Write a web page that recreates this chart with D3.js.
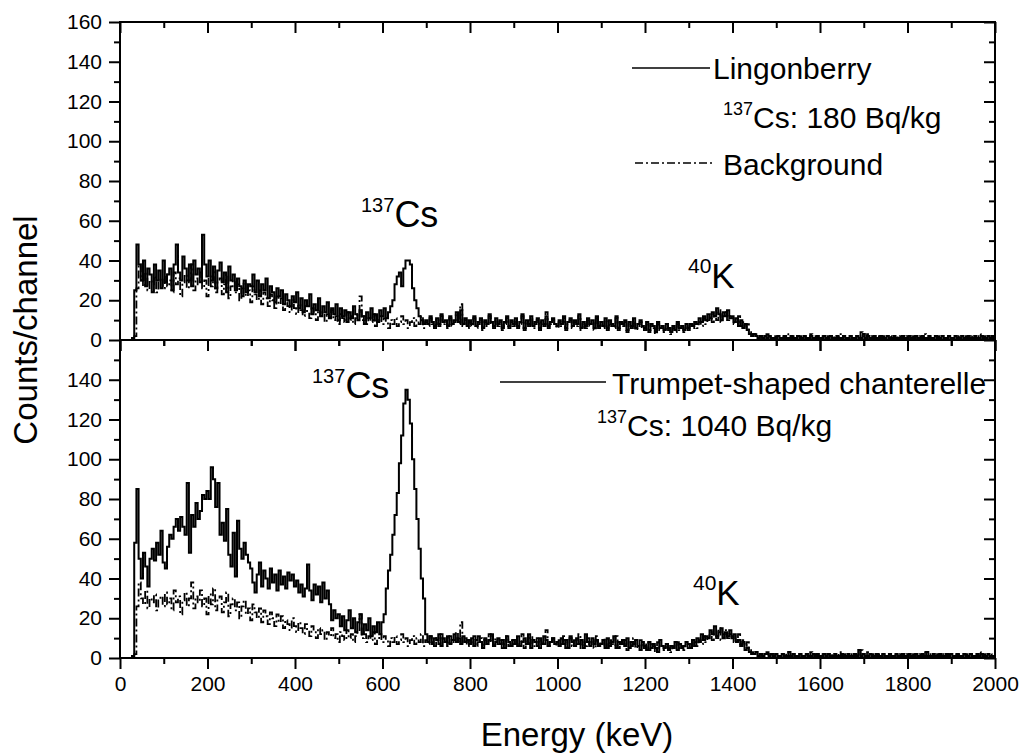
<!DOCTYPE html>
<html>
<head>
<meta charset="utf-8">
<script src="https://cdn.jsdelivr.net/npm/d3@7/dist/d3.min.js"></script>
<style>
  body { margin: 0; background: #fff; }
  svg { font-family: "Liberation Sans", Arial, sans-serif; }
</style>
</head>
<body>
<svg id="chart" width="1023" height="756"></svg>
<script>
// gamma spectra, one value per 5 keV channel, first channel at 0 keV
var energyStep = 5;

var backgroundCounts = [
  0,0,0,0,0,0,0,2,26,38, 30,27,34,25,30,28,32,24,29,31,
  26,33,27,30,24,34,28,31,22,29, 33,26,30,38,25,31,28,34,26,30,
  22,32,27,35,24,29,31,23,28,33, 21,27,30,24,28,20,26,29,22,25,
  19,27,23,20,25,18,24,21,17,23, 20,16,22,18,21,15,19,17,14,20,
  16,13,18,15,12,17,14,11,16,13, 10,15,12,14,9,13,11,15,10,12,
  8,13,11,9,14,10,12,8,11,13, 22,10,12,8,11,9,13,7,10,12,
  8,11,9,6,10,8,11,7,9,12, 8,10,6,9,11,7,10,8,12,6,
  9,7,11,8,6,10,7,12,8,9, 6,11,7,9,13,8,18,7,10,6,
  9,7,11,6,8,10,5,9,7,12, 8,6,10,7,9,5,8,11,6,9,
  7,10,6,8,12,5,9,7,11,6, 8,10,5,9,7,14,6,8,10,7,
  6,9,7,11,5,8,10,6,9,7, 12,5,8,6,10,7,9,5,11,6,
  8,6,10,5,9,7,6,11,5,8, 7,9,4,8,6,10,5,7,9,6,
  5,8,4,7,6,3,8,5,6,4, 7,5,3,6,4,8,5,6,4,7,
  5,7,6,8,6,9,7,11,8,10, 13,9,12,10,15,9,12,14,10,12,
  11,8,10,12,7,9,6,8,4,3, 2,3,1,2,2,1,3,1,2,1,
  2,1,1,2,1,3,1,1,2,1, 1,2,1,2,1,1,3,1,2,1,
  1,2,1,1,2,1,2,1,1,3, 1,2,1,1,2,1,1,2,1,4,
  2,1,3,1,2,1,1,2,1,2, 1,1,2,1,1,2,1,2,1,1,
  2,1,1,2,1,1,2,1,3,1, 1,2,1,1,2,1,2,1,1,2,
  1,1,2,1,2,1,1,2,1,1, 2,1,1,3,1,2,1,1,2,1,
  1
];

var lingonberryCounts = [
  0,0,0,0,0,0,1,25,48,38, 30,40,27,36,33,24,38,30,35,26,
  40,29,33,36,25,38,48,34,30,42, 36,30,38,27,40,33,36,29,53,38,
  32,40,30,37,26,35,39,29,34,24, 37,30,33,25,31,27,22,30,24,28,
  27,33,24,30,22,28,25,31,21,27, 24,19,26,22,25,18,23,20,17,22,
  19,24,16,21,14,20,17,23,13,18, 15,21,12,17,14,19,11,16,13,18,
  10,16,12,15,9,14,11,17,13,10, 15,12,8,14,11,16,10,13,9,15,
  12,16,11,14,17,20,28,32,34,27, 36,40,40,38,26,20,16,12,10,8,
  10,8,12,9,7,11,8,13,9,10, 7,12,8,10,14,9,15,8,11,7,
  10,8,12,7,9,11,6,10,8,13, 9,7,11,8,10,6,9,12,7,10,
  8,11,7,9,13,6,10,8,12,7, 9,11,6,10,8,12,7,9,11,8,
  7,10,8,12,6,9,11,7,10,8, 13,6,9,7,11,8,10,6,12,7,
  9,7,11,6,10,8,7,12,6,9, 8,10,5,9,7,11,6,8,10,7,
  6,9,5,8,7,4,9,6,7,5, 8,6,4,7,5,9,6,7,5,8,
  6,8,7,9,8,11,9,12,10,13, 11,14,12,16,13,10,14,12,15,11,
  12,9,11,7,10,6,8,5,3,2, 3,2,1,2,1,2,1,2,1,1,
  1,2,1,1,2,1,1,2,1,1, 2,1,1,2,1,1,2,1,1,2,
  1,1,2,1,1,2,1,1,2,1, 1,2,1,1,2,1,1,2,1,1,
  3,1,2,1,1,2,1,1,2,1, 1,2,1,1,2,1,1,1,2,1,
  1,2,1,1,2,1,1,2,1,1, 2,1,1,2,1,1,2,1,1,2,
  1,1,2,1,1,2,1,1,2,1, 1,2,1,1,2,1,1,2,1,2,
  1
];

var chanterelleCounts = [
  0,0,0,0,0,0,1,58,85,50, 40,53,46,36,50,55,49,58,52,64,
  48,45,56,62,60,66,70,64,71,66, 62,88,53,72,66,78,70,74,82,80,
  84,80,96,90,76,88,62,68,59,75, 52,46,63,41,69,55,50,58,52,48,
  45,38,33,42,48,36,44,40,35,45, 38,42,34,44,37,41,35,43,39,42,
  36,39,33,37,31,35,47,34,29,37, 32,36,28,38,30,34,27,19,24,20,
  22,16,21,14,19,24,15,20,13,18, 22,12,17,14,20,11,16,13,18,12,
  18,22,35,44,52,62,72,83,98,112, 128,135,130,118,100,85,70,55,40,30,
  12,8,11,7,10,9,12,6,10,8, 11,7,9,12,8,10,7,11,8,9,
  7,10,6,9,11,8,5,10,7,9, 12,6,8,10,7,9,5,11,8,6,
  9,7,11,6,8,10,7,12,5,9, 8,6,10,7,11,9,6,8,10,7,
  8,6,10,7,9,5,11,8,6,10, 7,9,5,12,8,6,10,7,9,6,
  7,9,5,10,6,8,11,5,8,7, 9,6,10,5,8,7,9,6,4,8,
  6,4,8,5,7,5,3,9,6,5, 7,4,6,5,8,4,7,5,6,8,
  7,5,9,6,10,8,12,9,11,10, 14,12,16,11,13,15,10,13,11,14,
  10,12,8,9,6,8,4,5,3,2, 2,3,1,2,1,2,2,1,2,1,
  2,1,1,2,1,1,3,1,2,1, 1,2,1,1,2,1,1,2,1,2,
  1,1,2,1,2,1,1,2,1,1, 2,1,1,2,1,1,2,1,4,1,
  2,1,1,2,1,1,2,1,1,2, 1,1,2,1,1,2,1,1,2,1,
  1,2,1,1,2,1,1,2,1,3, 1,1,2,1,1,2,1,1,2,1,
  2,1,1,2,1,1,2,1,1,2, 1,1,2,1,2,1,1,2,1,1,
  1
];

var xTicks = [0, 200, 400, 600, 800, 1000, 1200, 1400, 1600, 1800, 2000];
var xMinorTicks = [100, 300, 500, 700, 900, 1100, 1300, 1500, 1700, 1900];
var yTicksTop = [0, 20, 40, 60, 80, 100, 120, 140, 160];
var yTicksBottom = [0, 20, 40, 60, 80, 100, 120, 140];
var yMinorTicks = [10, 30, 50, 70, 90, 110, 130, 150];

var svg = d3.select("#chart");
var left = 120, right = 995;
var dashDot = "8,3,2,3";

var x = d3.scaleLinear().domain([0, 2000]).range([left, right]);

function pointsOf(counts) {
  return counts.map(function(c, i) { return [i * energyStep, c]; });
}

var panels = [
  {top: 22, bottom: 340, labels: yTicksTop, fg: lingonberryCounts, bottomLabels: false},
  {top: 340, bottom: 658, labels: yTicksBottom, fg: chanterelleCounts, bottomLabels: true}
];

panels.forEach(function(p, k) {
  var y = d3.scaleLinear().domain([0, 160]).range([p.bottom, p.top]);
  var g = svg.append("g");

  svg.append("clipPath").attr("id", "clip" + k)
    .append("rect")
    .attr("x", left).attr("y", p.top)
    .attr("width", right - left).attr("height", p.bottom - p.top);

  var line = d3.line()
    .x(function(d) { return x(d[0]); })
    .y(function(d) { return y(d[1]); })
    .curve(d3.curveStep);

  g.append("path")
    .attr("clip-path", "url(#clip" + k + ")")
    .attr("d", line(pointsOf(backgroundCounts)))
    .attr("fill", "none").attr("stroke", "#000")
    .attr("stroke-width", 1.8).attr("stroke-dasharray", dashDot);

  g.append("path")
    .attr("clip-path", "url(#clip" + k + ")")
    .attr("d", line(pointsOf(p.fg)))
    .attr("fill", "none").attr("stroke", "#000")
    .attr("stroke-width", 2);

  // left axis, ticks out
  g.append("g").attr("transform", "translate(" + left + ",0)")
    .call(d3.axisLeft(y).tickValues(p.labels).tickSize(11).tickSizeOuter(0).tickPadding(7));
  g.append("g").attr("transform", "translate(" + left + ",0)")
    .call(d3.axisLeft(y).tickValues(yMinorTicks).tickSize(6).tickSizeOuter(0).tickFormat(""));
  // right axis, ticks in
  g.append("g").attr("transform", "translate(" + right + ",0)")
    .call(d3.axisRight(y).tickValues(p.labels).tickSize(-11).tickSizeOuter(0).tickFormat(""));
  g.append("g").attr("transform", "translate(" + right + ",0)")
    .call(d3.axisRight(y).tickValues(yMinorTicks).tickSize(-6).tickSizeOuter(0).tickFormat(""));
  // top axis, ticks in
  g.append("g").attr("transform", "translate(0," + p.top + ")")
    .call(d3.axisBottom(x).tickValues(xTicks).tickSize(11).tickSizeOuter(0).tickFormat(""));
  g.append("g").attr("transform", "translate(0," + p.top + ")")
    .call(d3.axisBottom(x).tickValues(xMinorTicks).tickSize(6).tickSizeOuter(0).tickFormat(""));
  // bottom axis, ticks out
  var bx = d3.axisBottom(x).tickValues(xTicks).tickSize(11).tickSizeOuter(0).tickPadding(7)
    .tickFormat(d3.format("d"));
  if (!p.bottomLabels) bx.tickFormat("");
  g.append("g").attr("transform", "translate(0," + p.bottom + ")").call(bx);
  g.append("g").attr("transform", "translate(0," + p.bottom + ")")
    .call(d3.axisBottom(x).tickValues(xMinorTicks).tickSize(6).tickSizeOuter(0).tickFormat(""));

  g.append("rect")
    .attr("x", left).attr("y", p.top)
    .attr("width", right - left).attr("height", p.bottom - p.top)
    .attr("fill", "none").attr("stroke", "#000").attr("stroke-width", 2);
});

svg.selectAll(".domain").remove();
svg.selectAll(".tick line").attr("stroke", "#000").attr("stroke-width", 2);
svg.selectAll(".tick text")
  .attr("fill", "#000")
  .style("font-size", "21px")
  .style("font-family", "'Liberation Sans', Arial, sans-serif");

// axis titles
svg.append("text")
  .attr("transform", "translate(37,330) rotate(-90)")
  .attr("text-anchor", "middle")
  .style("font-size", "33px")
  .text("Counts/channel");

svg.append("text")
  .attr("x", 577).attr("y", 746)
  .attr("text-anchor", "middle")
  .style("font-size", "33px")
  .text("Energy (keV)");

// isotope labels
function isotope(px, py, mass, sym, big, small) {
  var t = svg.append("text").attr("x", px).attr("y", py).style("font-size", big + "px");
  t.append("tspan").attr("dy", -big * 0.42).style("font-size", small + "px").text(mass);
  t.append("tspan").attr("dy", big * 0.42).text(sym);
}
isotope(361, 227, "137", "Cs", 36, 20);
isotope(312, 398, "137", "Cs", 36, 20);
isotope(688, 288, "40", "K", 35, 21);
isotope(693, 605, "40", "K", 35, 21);

// legends
function legendLine(x1, x2, yy, dash) {
  svg.append("line").attr("x1", x1).attr("x2", x2).attr("y1", yy).attr("y2", yy)
    .attr("stroke", "#000").attr("stroke-width", 1.6)
    .attr("stroke-dasharray", dash);
}
legendLine(632, 710, 68, null);
svg.append("text").attr("x", 713).attr("y", 79).style("font-size", "30px").text("Lingonberry");
isotope(723, 128, "137", "Cs: 180 Bq/kg", 30, 18);
legendLine(635, 715, 163, dashDot);
svg.append("text").attr("x", 723).attr("y", 175).style("font-size", "30px").text("Background");

legendLine(500, 606, 382, null);
svg.append("text").attr("x", 612).attr("y", 394).style("font-size", "30px").text("Trumpet-shaped chanterelle");
isotope(597, 436, "137", "Cs: 1040 Bq/kg", 30, 18);
</script>
</body>
</html>
